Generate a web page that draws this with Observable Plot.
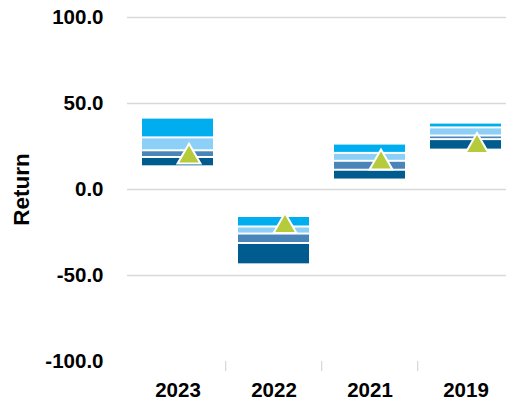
<!DOCTYPE html>
<html>
<head>
<meta charset="utf-8">
<script src="https://cdn.jsdelivr.net/npm/d3@7"></script>
<script src="https://cdn.jsdelivr.net/npm/@observablehq/plot@0.6"></script>
<style>
  html, body { margin: 0; padding: 0; background: #fff; }
  svg { display: block; }
</style>
</head>
<body>
<div id="chart"></div>
<script>
// Categories
const years = ["2023", "2022", "2021", "2019"];
// Quartile band edges (top to bottom)
const topEdge   = [41.5, -15.7, 26.4, 38.6];
const upperQ    = [30.0, -21.8, 21.0, 35.8];
const median    = [22.5, -25.9, 16.4, 31.1];
const lowerQ    = [18.6, -31.4, 11.2, 29.0];
const bottomEdge= [13.2, -43.8,  5.5, 22.9];
// Fund return (triangle)
const fund      = [18.9, -21.4, 15.5, 25.1];
// Y tick labels
const yTicks = [-100, -50, 0, 50, 100];
const gridTicks = [-50, 0, 50, 100];

const bandColors = ["#00AEEF", "#8CCFF7", "#4A85BA", "#005B8F"];
const bands = [];
years.forEach((y, i) => {
  const edges = [topEdge[i], upperQ[i], median[i], lowerQ[i], bottomEdge[i]];
  for (let k = 0; k < 4; k++) {
    bands.push({year: y, hi: edges[k], lo: edges[k + 1], q: k});
  }
});
const points = years.map((y, i) => ({year: y, value: fund[i]}));

const W = 506, H = 402;
const xRange = [128, 515];
const step = (xRange[1] - xRange[0]) / years.length;

const chart = Plot.plot({
  width: W,
  height: H,
  marginLeft: 127,
  marginRight: 0,
  marginTop: 17,
  marginBottom: 41,
  style: {fontFamily: "'Liberation Sans', Arial, sans-serif", fontSize: "20.5px", fontWeight: "bold", color: "#000", background: "#fff"},
  x: {domain: years, range: xRange, paddingInner: 0.26, paddingOuter: 0.13},
  y: {domain: [-100, 100]},
  color: {domain: [0, 1, 2, 3], range: bandColors},
  marks: [
    Plot.gridY(gridTicks, {stroke: "#d9d9d9", strokeOpacity: 1, strokeWidth: 1.3}),
    Plot.axisY(yTicks, {
      tickSize: 0, tickPadding: 24, tickFormat: d => d.toFixed(1),
      label: null, fill: "#000"
    }),
    Plot.axisY([], {
      label: "Return", labelAnchor: "center", labelArrow: "none", labelOffset: 114,
      fontSize: 22.5, fill: "#000"
    }),
    Plot.axisX({tickSize: 0, tickPadding: 20.5, fill: "#000", label: null}),
    Plot.axisX(years.slice(1), {tickSize: 10, text: null, dx: -step / 2, stroke: "#d9d9d9", strokeWidth: 1.3, label: null}),
    Plot.rectY(bands, {x: "year", y1: "lo", y2: "hi", fill: d => d.q, insetTop: 1, insetBottom: 1}),
    Plot.dot(points, {x: "year", y: "value", symbol: "triangle", r: 8.5, fill: "#B5CB3B", stroke: "#fff", strokeWidth: 2, dx: 11})
  ]
});
document.getElementById("chart").appendChild(chart);
</script>
</body>
</html>
